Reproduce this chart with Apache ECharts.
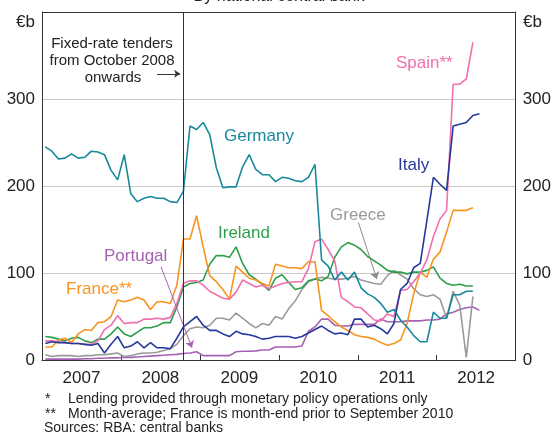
<!DOCTYPE html>
<html>
<head>
<meta charset="utf-8">
<script src="https://cdn.jsdelivr.net/npm/echarts@6/dist/echarts.min.js"></script>
<style>
  html, body { margin: 0; padding: 0; background: #fff; }
  #chart { width: 554px; height: 433px; }
</style>
</head>
<body>
<div id="chart"></div>
<script>
// monthly values, first point = January 2007 (€b)
const germany = [245, 240, 231, 232, 237, 232, 233, 240, 239, 236, 218, 207, 236, 191, 182, 186, 188, 186, 186, 182, 181, 194,
  269, 265, 273, 259, 221, 198, 199, 199, 222, 236, 219, 213, 213, 205, 210, 209, 206, 205, 210, 225,
  115, 108, 92, 101, 92, 101, 83, 76, 72, 65, 55, 58, 46, 38, 28, 21, 21, 55, 48, 48, 75, 75, 79, 79];
const italy = [19, 21, 20, 20, 19, 19, 18, 17, 19, 8, 18, 27, 14, 16, 21, 14, 20, 14, 14, 13, 25, 38,
  44, 50, 40, 34, 34, 30, 27, 33, 30, 29, 27, 24, 25, 27, 27, 27, 25, 27, 31, 35,
  39, 34, 30, 31, 29, 47, 47, 38, 40, 36, 30, 42, 81, 88, 106, 111, 160, 210, 202, 195, 269, 271, 273, 281, 283];
const spain = [22, 22, 21, 20, 19, 19, 18, 18, 22, 35, 40, 51, 42, 43, 43, 47, 47, 48, 47, 49, 65, 88,
  91, 91, 86, 79, 75, 71, 70, 78, 92, 88, 84, 86, 82, 85, 88, 89, 90, 90, 105, 136,
  139, 127, 114, 72, 67, 61, 60, 53, 46, 45, 53, 50, 80, 81, 90, 100, 115, 142, 162, 172, 317, 317, 323, 365];
const france = [15, 15, 23, 25, 20, 30, 35, 34, 43, 44, 50, 69, 67, 69, 72, 69, 58, 67, 67, 65, 86, 139,
  139, 166, 130, 97, 90, 81, 70, 108, 101, 94, 92, 88, 85, 110, 108, 106, 106, 105, 113, 113,
  57, 51, 44, 38, 34, 29, 27, 26, 24, 20, 17, 19, 23, 42, 76, 101, 95, 116, 124, 147, 172, 172, 172, 175];
const ireland = [27, 26, 24, 22, 25, 26, 22, 20, 24, 24, 30, 38, 30, 27, 32, 37, 37, 39, 43, 43, 61, 84,
  88, 89, 92, 110, 120, 120, 118, 130, 111, 98, 93, 87, 80, 94, 98, 89, 81, 83, 91, 93,
  91, 96, 118, 130, 135, 132, 127, 119, 114, 109, 103, 101, 101, 99, 101, 101, 103, 107, 94, 88, 86, 87, 85, 85];
const greece = [6, 4, 5, 5, 5, 4, 5, 5, 6, 6, 7, 8, 4, 5, 7, 8, 8, 9, 11, 13, 18, 28,
  36, 38, 37, 40, 48, 48, 46, 54, 48, 42, 37, 42, 40, 50, 47, 59, 68, 81, 90, 93,
  95, 94, 93, 93, 94, 96, 92, 90, 88, 87, 97, 103, 98, 93, 82, 75, 73, 75, 70, 48, 79, 63, 3, 73];
const portugal = [1, 1, 1, 1, 1, 1, 1.5, 1.5, 2, 2, 2.5, 2.5, 3, 3, 3.5, 4, 4.5, 5, 5.5, 6, 6.5, 7.5,
  8, 9.5, 5, 5, 5, 5, 5, 9.5, 10, 10, 10.5, 11.5, 11.5, 15, 15, 15, 15, 16, 33, 38,
  47, 47, 40, 39, 39, 41, 41, 41, 41, 47, 44, 44, 44, 45, 45, 45, 46, 46, 47, 53, 55, 58, 60, 61, 57];

const years = ['2007', '2008', '2009', '2010', '2011', '2012'];
const yTicks = [0, 100, 200, 300];
const fixedRateMonth = 21.5;   // October 2008

const FONT = "'Liberation Sans', Arial, sans-serif";
const myEcharts = echarts.init(document.getElementById('chart'));

function line(name, data, color, extra) {
  return Object.assign({
    name: name,
    type: 'line',
    symbol: 'none',
    silent: true,
    lineStyle: { color: color, width: 1.6 },
    data: data.map((v, i) => [i + 0.5, v])
  }, extra || {});
}

function label(text, x, y, color, size, align) {
  return {
    type: 'text', x: x, y: y,
    style: { text: text, fill: color, font: (size || 17) + 'px ' + FONT,
      textAlign: align || 'left', textVerticalAlign: 'middle' }
  };
}

const options = {
  animation: false,
  grid: { left: 42, right: 37, top: 12, bottom: 73 },
  xAxis: {
    type: 'value', min: 0, max: 72,
    axisLine: { lineStyle: { color: '#333', width: 1 } },
    axisTick: { inside: true, length: 5, lineStyle: { color: '#333' }, customValues: [12, 24, 36, 48, 60] },
    axisLabel: {
      customValues: years.map((y, i) => i * 12 + 6),
      formatter: v => years[Math.round((v - 6) / 12)],
      color: '#222', fontSize: 17, fontFamily: FONT, margin: 10
    },
    splitLine: { show: false }
  },
  yAxis: [{
    type: 'value', min: 0, max: 400, interval: 100,
    axisLine: { show: true, lineStyle: { color: '#333' } },
    axisTick: { show: false },
    axisLabel: { formatter: v => yTicks.indexOf(v) >= 0 ? String(v) : '', color: '#222', fontSize: 17, fontFamily: FONT, margin: 7 },
    splitLine: { show: true, lineStyle: { color: ['#333', '#c8c8c8', '#c8c8c8', '#c8c8c8', '#333'], width: 1 } }
  }, {
    type: 'value', min: 0, max: 400, interval: 100, position: 'right',
    axisLine: { show: true, lineStyle: { color: '#333' } },
    axisTick: { show: false },
    axisLabel: { formatter: v => yTicks.indexOf(v) >= 0 ? String(v) : '', color: '#222', fontSize: 17, fontFamily: FONT, margin: 7 },
    splitLine: { show: false }
  }],
  series: [
    line('Portugal', portugal, '#a662b2', {
      markLine: { silent: true, symbol: ['none', 'arrow'], symbolSize: 7, label: { show: false },
        lineStyle: { color: '#a662b2', width: 1, type: 'solid' },
        data: [[{ coord: [18.1, 107] }, { coord: [22.8, 14] }]] }
    }),
    line('Greece', greece, '#9a9a9a', {
      markLine: { silent: true, symbol: ['none', 'arrow'], symbolSize: 7, label: { show: false },
        lineStyle: { color: '#8a8a8a', width: 1, type: 'solid' },
        data: [[{ coord: [48.1, 158] }, { coord: [50.9, 93] }]] }
    }),
    line('Ireland', ireland, '#2e9e4b'),
    line('France', france, '#f7931e'),
    line('Spain', spain, '#f06fae'),
    line('Italy', italy, '#26399b'),
    line('Germany', germany, '#17899c', {
      markLine: { silent: true, symbol: 'none', label: { show: false },
        lineStyle: { color: '#333', width: 1, type: 'solid' },
        data: [
          { xAxis: fixedRateMonth },
          [{ coord: [17.5, 329], symbol: 'none' }, { coord: [21.0, 329], symbol: 'arrow', symbolSize: 6 }]
        ] }
    })
  ],
  graphic: [
    label('By national central bank', 279, -3, '#222', 16, 'center'),
    label('€b', 35, 22, '#222', 17, 'right'),
    label('€b', 523, 22, '#222', 17, 'left'),
    label('Fixed-rate tenders', 112, 44, '#222', 15, 'center'),
    label('from October 2008', 112, 61, '#222', 15, 'center'),
    label('onwards', 113, 78, '#222', 15, 'center'),
    label('Germany', 224, 136, '#17899c'),
    label('Spain**', 396, 63, '#f06fae'),
    label('Italy', 398, 165, '#26399b'),
    label('Greece', 330, 215, '#9a9a9a'),
    label('Ireland', 218, 233, '#2e9e4b'),
    label('Portugal', 104, 256, '#a662b2'),
    label('France**', 66, 289, '#f7931e'),
    label('*', 45, 399, '#222', 14),
    label('Lending provided through monetary policy operations only', 68, 399, '#222', 14),
    label('**', 45, 414.5, '#222', 14),
    label('Month-average; France is month-end prior to September 2010', 68, 414.5, '#222', 14),
    label('Sources: RBA: central banks', 44, 428.5, '#222', 14)
  ]
};
myEcharts.setOption(options, true);
</script>
</body>
</html>
